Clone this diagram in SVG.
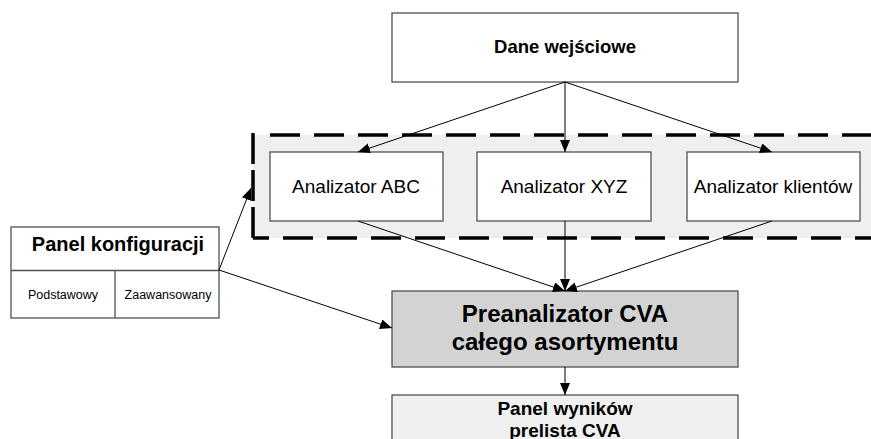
<svg xmlns="http://www.w3.org/2000/svg" width="871" height="439" viewBox="0 0 871 439">
<style>
.box{stroke:#505050;stroke-width:1.3}
.t{font-family:"Liberation Sans",Arial,sans-serif;fill:#000;text-anchor:middle}
.b{font-weight:bold}
.c{stroke:#000;stroke-width:1;fill:none}
.ca{stroke:#000;stroke-width:1;fill:none;marker-end:url(#ah)}
.d{stroke:#000;stroke-width:3.5;fill:none}
</style>
<defs>
<marker id="ah" viewBox="0 0 12 10" refX="12" refY="5" markerWidth="12" markerHeight="10" markerUnits="userSpaceOnUse" orient="auto">
<path d="M0,0 L12,5 L0,10 Z" fill="#000"/>
</marker>
</defs>
<rect width="871" height="439" fill="#fff"/>
<g id="group-analyzers">
<rect x="253" y="135" width="630" height="103" fill="#efefef"/>
<path class="d" d="M270,135 H871" stroke-dasharray="30 14"/>
<path class="d" d="M253,238 H871" stroke-dasharray="30 14" stroke-dashoffset="14"/>
<path class="d" d="M253,238 V133" stroke-dasharray="31 6"/>
</g>
<g id="node-dane">
<rect class="box" x="392" y="13" width="346" height="69" fill="#fff"/>
<text class="t b" x="565" y="53" font-size="18.5">Dane wejściowe</text>
</g>
<g id="node-abc">
<rect class="box" x="270" y="152" width="173" height="69" fill="#fff"/>
<text class="t" x="356" y="193" font-size="19">Analizator ABC</text>
</g>
<g id="node-xyz">
<rect class="box" x="477" y="152" width="174" height="69" fill="#fff"/>
<text class="t" x="564" y="193" font-size="19">Analizator XYZ</text>
</g>
<g id="node-klienci">
<rect class="box" x="687" y="152" width="173" height="69" fill="#fff"/>
<text class="t" x="773" y="193" font-size="19">Analizator klientów</text>
</g>
<g id="node-config">
<rect class="box" x="11" y="227" width="208" height="91" fill="#fff"/>
<line class="box" x1="11" y1="270.5" x2="219" y2="270.5"/>
<line class="box" x1="115" y1="270.5" x2="115" y2="318"/>
<text class="t b" x="118" y="251" font-size="20">Panel konfiguracji</text>
<text class="t" x="63" y="299" font-size="12.5">Podstawowy</text>
<text class="t" x="168" y="299" font-size="12.5">Zaawansowany</text>
</g>
<g id="node-pre">
<rect class="box" x="392" y="291" width="346" height="76" fill="#d3d3d3"/>
<text class="t b" x="565" y="322" font-size="24">Preanalizator CVA</text>
<text class="t b" x="565" y="350" font-size="24">całego asortymentu</text>
</g>
<g id="node-wyniki">
<rect class="box" x="392" y="395" width="346" height="60" fill="#f0f0f0"/>
<text class="t b" x="565" y="415" font-size="19">Panel wyników</text>
<text class="t b" x="565" y="437" font-size="19">prelista CVA</text>
</g>
<g id="connectors">
<line class="ca" x1="565" y1="82" x2="358" y2="152"/>
<line class="ca" x1="565" y1="82" x2="565" y2="152"/>
<line class="ca" x1="565" y1="82" x2="772" y2="152"/>
<line class="ca" x1="358" y1="221" x2="565" y2="291"/>
<line class="ca" x1="565" y1="221" x2="565" y2="291"/>
<line class="ca" x1="772" y1="221" x2="565" y2="291"/>
<line class="ca" x1="219" y1="270" x2="251" y2="188"/>
<line class="ca" x1="219" y1="270" x2="392" y2="328"/>
<line class="ca" x1="565" y1="367" x2="565" y2="395"/>
</g>
</svg>
